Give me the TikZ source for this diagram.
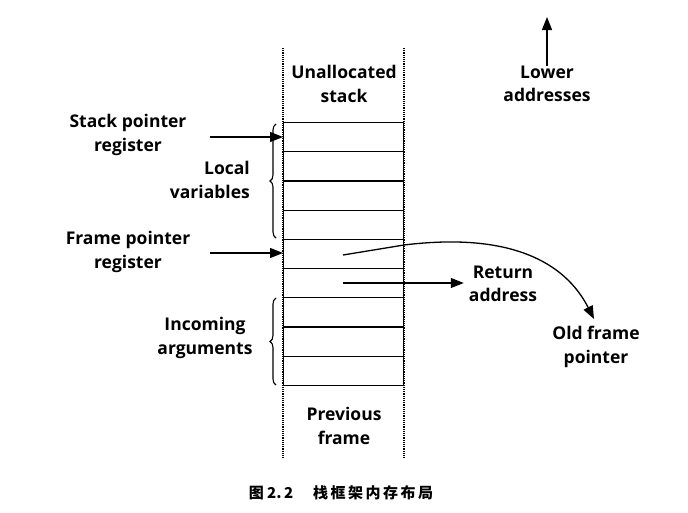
\documentclass[tikz,border=0pt]{standalone}
\usepackage{fontspec}
\setmainfont{Open Sans}
\newfontfamily\cjk{Noto Sans CJK SC}
\usetikzlibrary{arrows.meta,decorations.pathreplacing}
\begin{document}
\begin{tikzpicture}[x=1pt,y=-1pt,
  lbl/.style={font=\fontsize{17.5}{23.5}\selectfont\bfseries, align=center, inner sep=0pt},
  arr/.style={-{Triangle[length=13pt,width=10pt]}, line width=1.3pt},
  cell/.style={draw, line width=1.1pt, minimum width=120pt, minimum height=29.2pt, inner sep=0pt, anchor=north west},
  guide/.style={densely dotted, line width=1.2pt},
  brc/.style={decorate, decoration={brace, amplitude=6pt}, line width=1.1pt}]
\useasboundingbox (0,0) rectangle (688,512);
% guides
\coordinate (gl1) at (283,48); \coordinate (gl2) at (283,458);
\coordinate (gr1) at (404,48); \coordinate (gr2) at (404,458);
\draw[guide] (gl1) -- (gl2);
\draw[guide] (gr1) -- (gr2);
% cells
\foreach \i in {0,...,8}{
  \node[cell] (c\i) at (283,{122+\i*29.2}) {};
}
\node[lbl] (unalloc) at (344,84) {Unallocated\\stack};
\node[lbl] (prev) at (344,426) {Previous\\frame};
% pointers
\node[lbl] (sp) at (128,135) {Stack pointer\\register};
\node[lbl] (fp) at (128,252) {Frame pointer\\register};
\coordinate (spa) at (210,137);
\coordinate (fpa) at (210,253);
\draw[arr] (spa) -- (c0.west |- spa);
\draw[arr] (fpa) -- (c4.west |- fpa);
% braces
\coordinate (b1t) at (276,124); \coordinate (b1b) at (276,238);
\coordinate (b2t) at (276,298); \coordinate (b2b) at (276,385);
\draw[brc] (b1b) -- (b1t);
\draw[brc] (b2b) -- (b2t);
\node[lbl, anchor=east, align=right] (lv) at (250,180) {Local\\variables};
\node[lbl] (ia) at (205,338) {Incoming\\arguments};
% return address
\node[lbl] (ra) at (503,284) {Return\\address};
\coordinate (ras) at (343,283);
\draw[arr] (ras) -- ([xshift=-5pt]ra.west |- ras);
% old frame pointer
\node[lbl] (ofp) at (596,347) {Old frame\\pointer};
\coordinate (ofs) at (343,255);
\coordinate (ofm) at (404,245);
\coordinate (oft) at (594,319);
\draw[arr] (ofs) -- (ofm) .. controls (510,232) and (565,262) .. (oft);
% lower addresses
\node[lbl] (la) at (547,84) {Lower\\addresses};
\coordinate (lat) at (547,17);
\draw[arr] (la.north) -- (lat);
% caption
\node[inner sep=0pt, font=\cjk\bfseries\fontsize{15}{17}\selectfont] (cap) at (341,493) {图 2.\,2\hspace{20pt}栈\,框\,架\,内\,存\,布\,局};
\end{tikzpicture}
\end{document}
